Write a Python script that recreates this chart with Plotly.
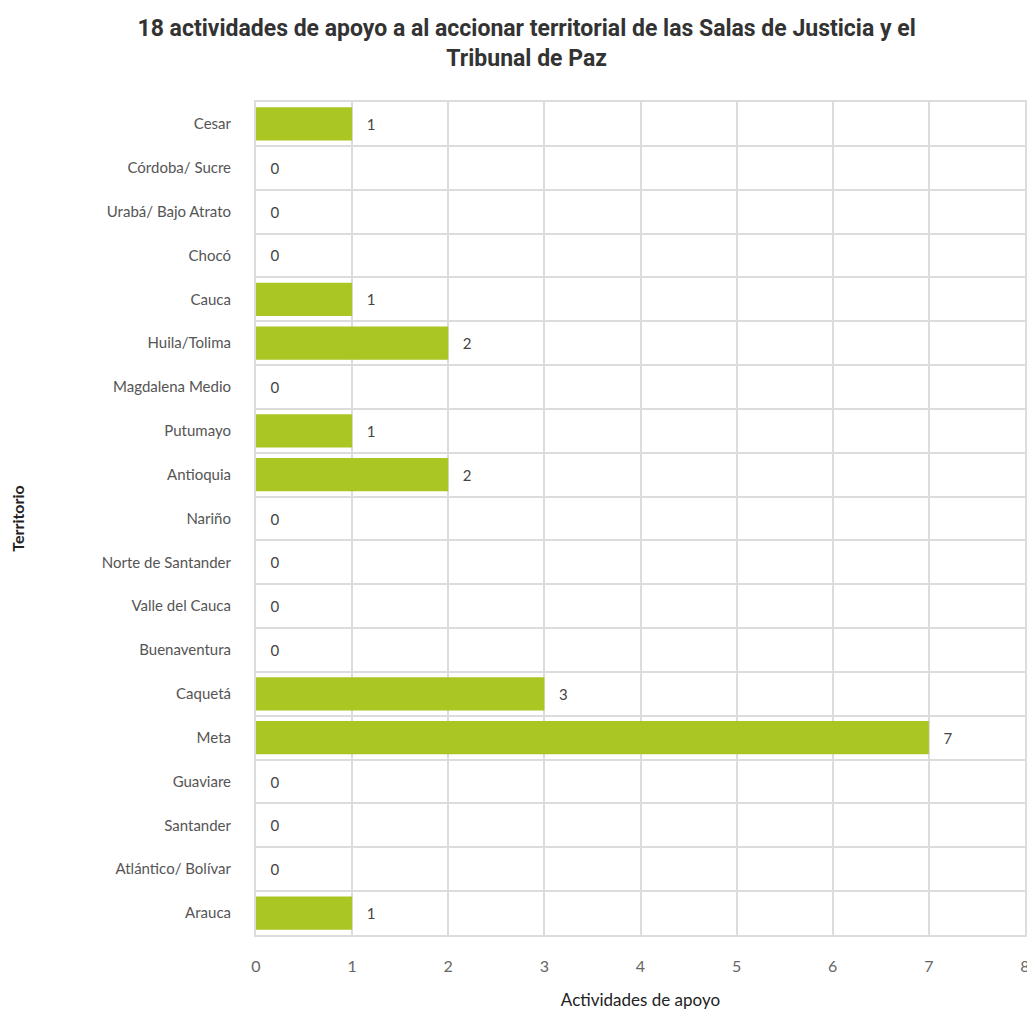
import plotly.graph_objects as go

territorios = ["Cesar", "Córdoba/ Sucre", "Urabá/ Bajo Atrato", "Chocó", "Cauca", "Huila/Tolima",
               "Magdalena Medio", "Putumayo", "Antioquia", "Nariño", "Norte de Santander",
               "Valle del Cauca", "Buenaventura", "Caquetá", "Meta", "Guaviare", "Santander",
               "Atlántico/ Bolívar", "Arauca"]
actividades = [1, 0, 0, 0, 1, 2, 0, 1, 2, 0, 0, 0, 0, 3, 7, 0, 0, 0, 1]
x_ticks = [0, 1, 2, 3, 4, 5, 6, 7, 8]

pos = list(range(len(territorios)))

fig = go.Figure(go.Bar(
    x=actividades, y=pos, orientation="h",
    marker=dict(color="#a9c623", line=dict(width=0)),
    width=0.76,
    text=["   " + str(v) for v in actividades],
    textposition="outside",
    textfont=dict(family="Lato", size=15, color="#444"),
    cliponaxis=False,
))

grid = "#dcdcdc"
fig.update_layout(
    width=1027, height=1002,
    paper_bgcolor="white", plot_bgcolor="white",
    margin=dict(l=248, r=10, t=94, b=75),
    title=dict(text="18 actividades de apoyo a al accionar territorial de las Salas de Justicia y el<br>Tribunal de Paz",
               x=0.505, xanchor="center", y=0.972, yanchor="top",
               font=dict(family="Roboto", size=23, color="#333", weight="bold")),
    showlegend=False,
)
fig.update_xaxes(
    range=[0, 8.0001], tickvals=x_ticks, showgrid=True, gridcolor=grid, gridwidth=2,
    zeroline=False, showline=True, linecolor=grid, linewidth=2, mirror=True,
    tickfont=dict(family="Lato", size=16, color="#666"), ticklabeloverflow="allow",
    ticks="outside", ticklen=16, tickcolor="white", automargin=False,
    title=dict(text="Actividades de apoyo", font=dict(family="Lato", size=17, color="#222"), standoff=20),
)
fig.update_yaxes(
    range=[len(territorios) - 0.5, -0.5], tickmode="array", tickvals=pos, ticktext=territorios,
    showgrid=False, zeroline=False, showline=True, linecolor=grid, linewidth=2, mirror=True,
    minor=dict(tickmode="linear", tick0=0.5, dtick=1, showgrid=True, gridcolor=grid, gridwidth=2),
    tickfont=dict(family="Lato", size=15, color="#555"),
    ticks="outside", ticklen=20, tickcolor="white", automargin=False,
    title=dict(text="Territorio", font=dict(family="Lato", size=16, color="#222", weight="bold"), standoff=80),
)
fig.write_html("out.html")
